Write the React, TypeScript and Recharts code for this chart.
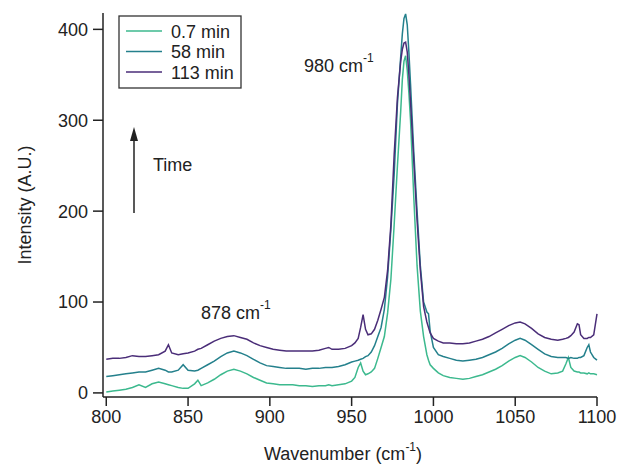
import React from "react";
import { LineChart, Line, XAxis, YAxis, Legend } from "recharts";

const wavenumbers = [
  800, 804, 808, 812, 816, 820, 824, 828, 832, 836, 838, 840, 844, 847, 850, 854, 856, 858, 862, 866,
  870, 874, 878, 882, 886, 890, 894, 898, 902, 906, 910, 914, 918, 922, 926, 930, 934, 936, 938, 942,
  946, 950, 952, 954, 955.5, 957, 958.5, 960, 962, 964, 966, 968, 970, 972, 974, 976, 978, 980, 981, 982,
  983, 984, 985, 986, 988, 990, 992, 994, 996, 997, 998, 1000, 1003, 1006, 1010, 1014, 1018, 1022, 1026, 1030,
  1034, 1038, 1042, 1046, 1050, 1053, 1056, 1060, 1064, 1068, 1072, 1076, 1079, 1081, 1082.5, 1084, 1086, 1088, 1089, 1090,
  1092, 1094, 1095, 1096, 1098, 1100,
];

const series07 = [
  1, 2, 3, 4, 6, 9, 6, 10, 12, 10, 9, 8, 6, 5, 5, 10, 14, 8, 11, 15,
  20, 24, 26, 24, 21, 17, 14, 11, 10, 9, 9, 9, 8, 8, 7, 8, 8, 9, 8, 9,
  10, 13, 17, 28, 33, 24, 20, 21, 23, 27, 38, 50, 62, 88, 125, 185, 250, 310, 345, 365,
  371, 355, 330, 300, 215, 140, 90, 62, 42, 36, 31, 27, 22, 19, 17, 16, 15, 16, 18, 20,
  23, 26, 30, 35, 39, 41, 39, 34, 28, 24, 21, 22, 24, 32, 39, 28, 24, 23, 23, 22,
  22, 21, 22, 21, 21, 20,
];

const series58 = [
  18, 19, 20, 21, 22, 23, 23, 25, 27, 25, 23, 23, 25, 31, 25, 24, 25, 27, 31, 35,
  40, 44, 46, 44, 41, 37, 33, 30, 29, 28, 27, 27, 27, 26, 27, 27, 28, 28, 28, 29,
  31, 34, 35, 36, 37, 38, 40, 41, 45, 52, 62, 72, 92, 128, 180, 240, 318, 370, 395, 412,
  417, 405, 375, 340, 265, 200, 140, 100, 89, 87, 68, 50, 42, 40, 38, 36, 35, 36, 37, 39,
  42, 45, 49, 54, 58, 60, 58, 53, 48, 43, 40, 39, 39, 39, 38, 39, 38, 38, 39, 39,
  41, 50, 53, 45, 39, 36,
];

const series113 = [
  37, 38, 38, 39, 41, 40, 40, 41, 42, 46, 53, 44, 42, 43, 44, 46, 48, 49, 53, 57,
  60, 62, 63, 61, 59, 55, 52, 50, 48, 47, 46, 46, 46, 46, 46, 47, 49, 50, 48, 48,
  49, 52, 55, 60, 72, 86, 70, 64, 65, 70, 80, 92, 105, 135, 185, 262, 325, 365, 378, 385,
  386, 375, 350, 320, 255, 190, 135, 95, 78, 72, 66, 60, 57, 55, 55, 54, 54, 55, 57, 59,
  62, 66, 70, 74, 77, 78, 76, 71, 65, 61, 59, 58, 59, 60, 61, 63, 67, 76, 75, 64,
  60, 60, 61, 61, 64, 87,
];

const seriesNames = ["0.7 min", "58 min", "113 min"];
const seriesColors = ["#3cb98e", "#24808c", "#4a2d78"];
const xTicks = [800, 850, 900, 950, 1000, 1050, 1100];
const yTicks = [0, 100, 200, 300, 400];

const data = wavenumbers.map((w, i) => ({
  w,
  s0: series07[i],
  s1: series58[i],
  s2: series113[i],
}));

const FONT = "'Liberation Sans', Arial, Helvetica, sans-serif";
const TXT = "#222";
const FS = 18;

const LegendBox = () => (
  <svg width={126} height={76} style={{ display: "block" }}>
    <rect x={1} y={1} width={122} height={72} fill="#fff" stroke="#333" strokeWidth={1.3} />
    {seriesNames.map((n, i) => (
      <g key={n}>
        <line x1={8} x2={44} y1={16 + i * 20.5} y2={16 + i * 20.5} stroke={seriesColors[i]} strokeWidth={1.5} />
        <text x={53} y={22.5 + i * 20.5} fontFamily={FONT} fontSize={FS} fill={TXT}>
          {n}
        </text>
      </g>
    ))}
  </svg>
);

export default function App() {
  return (
    <div style={{ position: "absolute", left: 0, top: 0, width: 619, height: 465, background: "#fff" }}>
      <LineChart
        width={619}
        height={465}
        data={data}
        margin={{ top: 13, right: 22, bottom: 0, left: 0 }}
      >
        <XAxis
          dataKey="w"
          type="number"
          domain={[798, 1100]}
          ticks={xTicks}
          height={68}
          tickSize={9}
          tickMargin={4}
          stroke={TXT}
          strokeWidth={1.5}
          tick={{ fontFamily: FONT, fontSize: FS, fill: TXT }}
          tickLine={{ stroke: TXT, strokeWidth: 1.5 }}
        />
        <YAxis
          type="number"
          domain={[-4.5, 418]}
          ticks={yTicks}
          width={103}
          tickSize={10}
          tickMargin={5}
          stroke={TXT}
          strokeWidth={1.5}
          tick={{ fontFamily: FONT, fontSize: FS, fill: TXT }}
          tickLine={{ stroke: TXT, strokeWidth: 1.5 }}
        />
        <Legend
          layout="vertical"
          align="center"
          verticalAlign="middle"
          content={() => <LegendBox />}
          wrapperStyle={{ position: "absolute", left: 118, top: 15, width: 126, height: 76 }}
        />
        <Line dataKey="s0" name={seriesNames[0]} stroke={seriesColors[0]} strokeWidth={1.5} dot={false} isAnimationActive={false} />
        <Line dataKey="s1" name={seriesNames[1]} stroke={seriesColors[1]} strokeWidth={1.5} dot={false} isAnimationActive={false} />
        <Line dataKey="s2" name={seriesNames[2]} stroke={seriesColors[2]} strokeWidth={1.5} dot={false} isAnimationActive={false} />
      </LineChart>
      <svg
        width={619}
        height={465}
        style={{ position: "absolute", left: 0, top: 0, pointerEvents: "none" }}
      >
        <text
          x={0}
          y={0}
          transform="translate(31 205) rotate(-90)"
          textAnchor="middle"
          fontFamily={FONT}
          fontSize={FS}
          fill={TXT}
        >
          Intensity (A.U.)
        </text>
        <text x={264} y={460} fontFamily={FONT} fontSize={FS} fill={TXT}>
          Wavenumber (cm
          <tspan dy={-9} fontSize={12}>-1</tspan>
          <tspan dy={9} fontSize={FS}>)</tspan>
        </text>
        <text x={304} y={72} fontFamily={FONT} fontSize={FS} fill={TXT}>
          980 cm
          <tspan dy={-10} fontSize={12}>-1</tspan>
        </text>
        <text x={201} y={319} fontFamily={FONT} fontSize={FS} fill={TXT}>
          878 cm
          <tspan dy={-10} fontSize={12}>-1</tspan>
        </text>
        <text x={153} y={171} fontFamily={FONT} fontSize={FS} fill={TXT}>
          Time
        </text>
        <line x1={134} x2={134} y1={213} y2={138} stroke={TXT} strokeWidth={1.5} />
        <polygon points="134,127 130,141 138,141" fill={TXT} />
      </svg>
    </div>
  );
}
